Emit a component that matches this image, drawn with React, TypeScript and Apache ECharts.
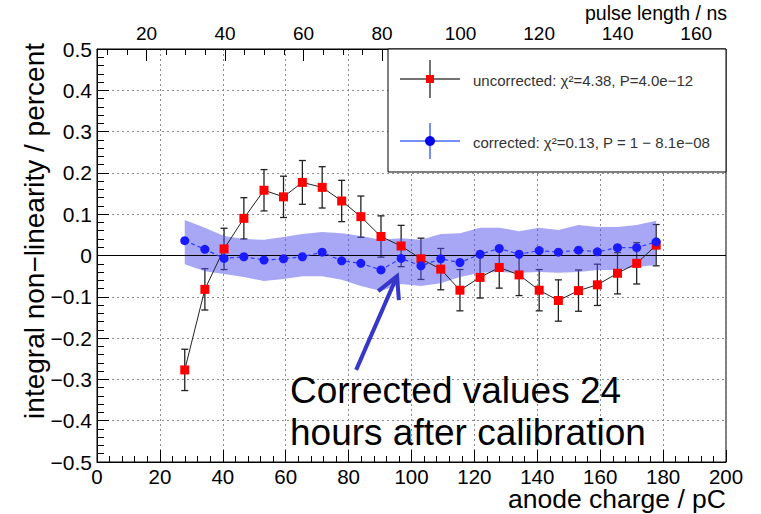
import React, { useEffect, useRef } from 'react';
import * as echarts from 'echarts';

const FONT = '"Liberation Sans", Arial, Helvetica, sans-serif';

// anode charge (pC) of each measurement
const chargeX = [27.9, 34.3, 40.4, 46.7, 53.1, 59.3, 65.3, 71.6, 77.8, 83.9, 90.3, 96.7, 103.0, 109.3, 115.4, 121.8, 127.9, 134.2, 140.6, 146.7, 153.1, 159.1, 165.5, 171.6, 177.8];
// uncorrected non-linearity (percent)
const uncorrected = [-0.277, -0.082, 0.016, 0.090, 0.158, 0.142, 0.177, 0.165, 0.132, 0.094, 0.046, 0.023, -0.008, -0.033, -0.084, -0.053, -0.029, -0.047, -0.084, -0.109, -0.085, -0.071, -0.043, -0.019, 0.025];
const uncorrectedErr = [0.05, 0.05, 0.05, 0.05, 0.05, 0.05, 0.053, 0.05, 0.05, 0.05, 0.05, 0.05, 0.05, 0.05, 0.05, 0.05, 0.05, 0.05, 0.05, 0.05, 0.05, 0.05, 0.05, 0.05, 0.05];
// corrected non-linearity (percent)
const corrected = [0.036, 0.015, -0.007, -0.003, -0.011, -0.008, -0.003, 0.008, -0.013, -0.019, -0.035, -0.007, -0.025, -0.008, -0.017, 0.003, 0.017, 0.003, 0.012, 0.008, 0.013, 0.009, 0.019, 0.019, 0.033];
// error band of the corrected values
const bandUpper = [0.086, 0.067, 0.047, 0.040, 0.038, 0.045, 0.052, 0.057, 0.054, 0.047, 0.038, 0.042, 0.038, 0.052, 0.054, 0.067, 0.067, 0.059, 0.067, 0.062, 0.074, 0.069, 0.069, 0.074, 0.084];
const bandLower = [-0.021, -0.038, -0.045, -0.052, -0.062, -0.057, -0.050, -0.050, -0.059, -0.074, -0.086, -0.069, -0.074, -0.067, -0.052, -0.042, -0.040, -0.042, -0.040, -0.042, -0.040, -0.035, -0.035, -0.028, -0.023];

// top axis (pulse length, ns)
const pulseMin = 7.4;
const pulseMax = 167.6;
const pulseLabels = [20, 40, 60, 80, 100, 120, 140, 160];
const pulseMinor = [10, 15, 25, 30, 35, 45, 50, 55, 65, 70, 75, 85, 90, 95, 105, 110, 115, 125, 130, 135, 145, 150, 155, 165];

// annotation arrow: tail and head in data coordinates
const arrowLine = [[82.4, -0.277, 95.4, -0.050]];

const ARROW_C = '#3636c8';

function yFmt(v: number) {
  const r = Math.round(v * 10) / 10;
  if (r === 0) return '0';
  return (r < 0 ? '\u2212' : '') + Math.abs(r).toFixed(1);
}

function buildOption(): any {
  const gridRect = { left: 97, top: 49, width: 629, height: 413 };
  const gridLine = { show: true, lineStyle: { color: '#8a8a8a', type: [2, 3], width: 1 } };
  return {
    animation: false,
    backgroundColor: '#fff',
    grid: [
      { ...gridRect, show: true, borderColor: '#000', borderWidth: 1, backgroundColor: 'transparent' },
      { ...gridRect, show: false },
    ],
    xAxis: [
      {
        type: 'value', gridIndex: 0, min: 0, max: 200, interval: 20, position: 'bottom',
        axisLine: { show: true, onZero: false, lineStyle: { color: '#000', width: 1 } },
        axisTick: { show: true, inside: true, length: 12, lineStyle: { color: '#000' } },
        minorTick: { show: true, splitNumber: 5, length: 6, lineStyle: { color: '#000' } },
        splitLine: gridLine,
        axisLabel: { fontSize: 20.5, color: '#000', fontFamily: FONT, margin: 4, lineHeight: 20, formatter: (v: number) => String(Math.round(v)) },
      },
      {
        type: 'value', gridIndex: 0, min: pulseMin, max: pulseMax, position: 'top',
        axisLine: { show: true, onZero: false, lineStyle: { color: '#000', width: 1 } },
        axisTick: { show: true, inside: true, length: 12, customValues: pulseLabels, lineStyle: { color: '#000' } },
        axisLabel: { show: true, customValues: pulseLabels, fontSize: 19, color: '#000', fontFamily: FONT, margin: 6, formatter: (v: number) => String(Math.round(v)) },
        splitLine: { show: false },
      },
      {
        type: 'value', gridIndex: 1, min: pulseMin, max: pulseMax, position: 'top',
        axisLine: { show: false, onZero: false },
        axisTick: { show: true, inside: true, length: 6, customValues: pulseMinor, lineStyle: { color: '#000' } },
        axisLabel: { show: false },
        splitLine: { show: false },
      },
    ],
    yAxis: [
      {
        type: 'value', gridIndex: 0, min: -0.5, max: 0.5, interval: 0.1,
        axisLine: { show: true, onZero: false, lineStyle: { color: '#000', width: 1 } },
        axisTick: { show: true, inside: true, length: 12, lineStyle: { color: '#000' } },
        minorTick: { show: true, splitNumber: 5, length: 7, lineStyle: { color: '#000' } },
        splitLine: gridLine,
        axisLabel: { fontSize: 21, color: '#000', fontFamily: FONT, margin: 5, formatter: yFmt },
      },
      { type: 'value', gridIndex: 1, min: -0.5, max: 0.5, show: false },
    ],
    series: [
      {
        type: 'line', xAxisIndex: 0, yAxisIndex: 0, data: [[0, 0], [200, 0]],
        symbol: 'none', silent: true, lineStyle: { color: '#000', width: 1.2 },
      },
      {
        type: 'custom', xAxisIndex: 0, yAxisIndex: 0,
        data: chargeX.map((x, i) => [x, uncorrected[i] - uncorrectedErr[i], uncorrected[i] + uncorrectedErr[i]]),
        encode: { x: 0, y: [1, 2] },
        renderItem: (_p: any, api: any) => {
          const x = api.value(0);
          const a = api.coord([x, api.value(2)]);
          const b = api.coord([x, api.value(1)]);
          const w = 3.5;
          const st = { stroke: '#222', lineWidth: 1.3 };
          return {
            type: 'group',
            children: [
              { type: 'line', shape: { x1: a[0], y1: a[1], x2: b[0], y2: b[1] }, style: st },
              { type: 'line', shape: { x1: a[0] - w, y1: a[1], x2: a[0] + w, y2: a[1] }, style: st },
              { type: 'line', shape: { x1: b[0] - w, y1: b[1], x2: b[0] + w, y2: b[1] }, style: st },
            ],
          };
        },
      },
      {
        type: 'line', xAxisIndex: 0, yAxisIndex: 0,
        data: chargeX.map((x, i) => [x, uncorrected[i]]),
        symbol: 'rect', symbolSize: 9,
        itemStyle: { color: '#ff0000' },
        lineStyle: { color: '#222', width: 1 },
      },
      {
        type: 'custom', xAxisIndex: 0, yAxisIndex: 0,
        data: chargeX.map((x, i) => [x, bandLower[i], bandUpper[i]]),
        encode: { x: 0, y: [1, 2] },
        renderItem: (params: any, api: any) => {
          if (params.dataIndex !== 0) return { type: 'group', children: [] };
          const pts: number[][] = [];
          for (let i = 0; i < chargeX.length; i++) pts.push(api.coord([chargeX[i], bandUpper[i]]));
          for (let i = chargeX.length - 1; i >= 0; i--) pts.push(api.coord([chargeX[i], bandLower[i]]));
          return { type: 'polygon', shape: { points: pts }, style: { fill: 'rgba(80,80,235,0.5)' } };
        },
      },
      {
        type: 'line', xAxisIndex: 0, yAxisIndex: 0,
        data: chargeX.map((x, i) => [x, corrected[i]]),
        symbol: 'circle', symbolSize: 9,
        itemStyle: { color: '#1a1aff' },
        lineStyle: { color: '#2a3cff', width: 1.2, type: [4, 3] },
      },
      {
        type: 'custom', xAxisIndex: 0, yAxisIndex: 0,
        data: arrowLine,
        encode: { x: [0, 2], y: [1, 3] },
        renderItem: (_p: any, api: any) => {
          const t = api.coord([api.value(0), api.value(1)]);
          const h = api.coord([api.value(2), api.value(3)]);
          const dx = t[0] - h[0];
          const dy = t[1] - h[1];
          const len = Math.hypot(dx, dy);
          const ux = dx / len;
          const uy = dy / len;
          const ang = (28 * Math.PI) / 180;
          const L = 24;
          const c = Math.cos(ang);
          const s = Math.sin(ang);
          const r1 = [h[0] + L * (ux * c - uy * s), h[1] + L * (ux * s + uy * c)];
          const r2 = [h[0] + L * (ux * c + uy * s), h[1] + L * (-ux * s + uy * c)];
          return {
            type: 'group',
            children: [
              { type: 'line', shape: { x1: t[0], y1: t[1], x2: h[0], y2: h[1] }, style: { stroke: ARROW_C, lineWidth: 4 } },
              { type: 'polyline', shape: { points: [r1, h, r2] }, style: { stroke: ARROW_C, lineWidth: 4, fill: 'none' } },
            ],
          };
        },
      },
    ],
    graphic: [
      // legend box
      { type: 'rect', z: 100, shape: { x: 388, y: 49, width: 338, height: 123 }, style: { fill: '#fff', stroke: '#000', lineWidth: 1 } },
      { type: 'line', z: 101, shape: { x1: 400, y1: 79, x2: 460, y2: 79 }, style: { stroke: '#444', lineWidth: 1.5 } },
      { type: 'line', z: 101, shape: { x1: 430, y1: 60, x2: 430, y2: 98 }, style: { stroke: '#444', lineWidth: 1.5 } },
      { type: 'rect', z: 102, shape: { x: 426, y: 75, width: 8, height: 8 }, style: { fill: '#ff0000' } },
      { type: 'text', z: 102, x: 473, y: 80, style: { text: 'uncorrected: \u03c7\u00b2=4.38, P=4.0e\u221212', fontSize: 15, fontFamily: FONT, fill: '#333', align: 'left', verticalAlign: 'middle' } },
      { type: 'line', z: 101, shape: { x1: 400, y1: 141, x2: 460, y2: 141 }, style: { stroke: '#4a68ff', lineWidth: 1.5 } },
      { type: 'line', z: 101, shape: { x1: 430, y1: 123, x2: 430, y2: 159 }, style: { stroke: '#4a68ff', lineWidth: 1.5 } },
      { type: 'circle', z: 102, shape: { cx: 430, cy: 141, r: 5 }, style: { fill: '#0000ee' } },
      { type: 'text', z: 102, x: 473, y: 142, style: { text: 'corrected: \u03c7\u00b2=0.13, P = 1 \u2212 8.1e\u221208', fontSize: 15, fontFamily: FONT, fill: '#333', align: 'left', verticalAlign: 'middle' } },
      // axis titles
      { type: 'text', z: 50, x: 726, y: 499, style: { text: 'anode charge / pC', fontSize: 26.5, lineHeight: 24, fontFamily: FONT, fill: '#000', align: 'right', verticalAlign: 'middle' } },
      { type: 'text', z: 50, x: 727, y: 13, style: { text: 'pulse length / ns', fontSize: 19.5, fontFamily: FONT, fill: '#000', align: 'right', verticalAlign: 'middle' } },
      { type: 'text', z: 50, x: 34, y: 43, rotation: Math.PI / 2, style: { text: 'integral non\u2212linearity / percent', fontSize: 28, fontFamily: FONT, fill: '#000', align: 'right', verticalAlign: 'middle' } },
      // annotation
      { type: 'text', z: 50, x: 290, y: 390, style: { text: 'Corrected values 24', fontSize: 37, fontFamily: FONT, fill: '#000', align: 'left', verticalAlign: 'middle' } },
      { type: 'text', z: 50, x: 290, y: 432, style: { text: 'hours after calibration', fontSize: 37, fontFamily: FONT, fill: '#000', align: 'left', verticalAlign: 'middle' } },
    ],
  };
}

export default function App() {
  const ref = useRef<HTMLDivElement>(null);
  useEffect(() => {
    const chart = echarts.init(ref.current as HTMLDivElement, null, { renderer: 'svg' });
    chart.setOption(buildOption());
    return () => chart.dispose();
  }, []);
  return (
    <div
      ref={ref}
      style={{ position: 'fixed', left: 0, top: 0, width: 761, height: 514, background: '#fff' }}
    />
  );
}
